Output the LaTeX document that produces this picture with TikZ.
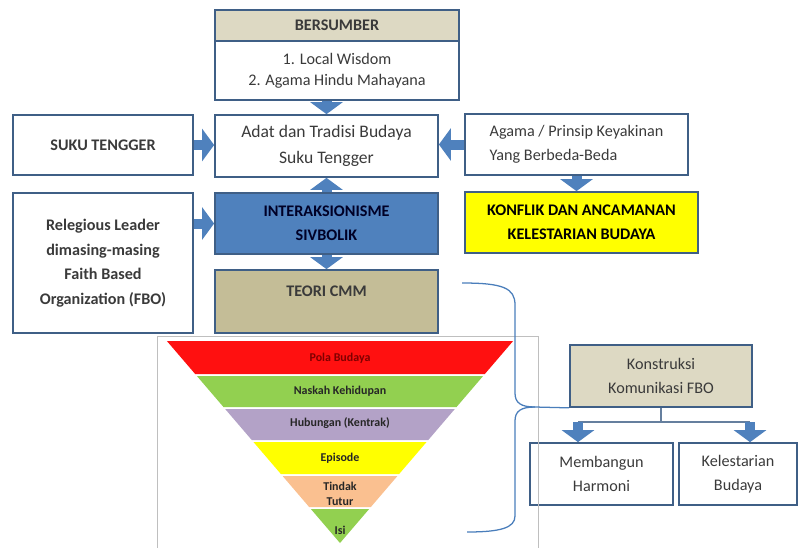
\documentclass[tikz,border=0pt]{standalone}
\usepackage{fontspec}
\setmainfont{Carlito}
\usetikzlibrary{arrows.meta, positioning}

\definecolor{boxline}{HTML}{3F5F86}
\definecolor{tanlight}{HTML}{DDD9C3}
\definecolor{tandark}{HTML}{C4BD97}
\definecolor{blueblock}{HTML}{4F81BD}
\definecolor{txtgray}{HTML}{3A3A3A}
\definecolor{braceblue}{HTML}{4A7EBB}
\definecolor{pRed}{HTML}{FF1010}
\definecolor{pGreen}{HTML}{92D050}
\definecolor{pPurple}{HTML}{B3A2C7}
\definecolor{pYellow}{HTML}{FFFF00}
\definecolor{pPeach}{HTML}{FAC090}

\tikzset{
  box/.style={draw=boxline, line width=1.2pt, align=center, inner sep=2pt,
    text=txtgray, font=\fontsize{11.5}{17}\selectfont},
  boldbox/.style={box, font=\fontsize{11.5}{17}\selectfont\bfseries},
  blockarrow/.style={draw=blueblock, line width=2.5mm,
    -{Triangle[width=8mm,length=3mm]}},
  treeline/.style={draw=boxline!80, line width=0.8pt},
  bracel/.style={draw=braceblue, line width=0.9pt},
  layerlabel/.style={font=\fontsize{8.5}{10.5}\selectfont\bfseries, align=center}
}

\begin{document}
\begin{tikzpicture}[x=0.025cm, y=-0.025cm]
  \useasboundingbox (0,0) rectangle (801,548);

  % top source box
  \node[boldbox, fill=tanlight, minimum width=6.1cm, minimum height=0.775cm] (berhead) at (337,25.5) {BERSUMBER};
  \node[box, minimum width=6.1cm, minimum height=1.475cm, font=\fontsize{11.5}{15}\selectfont] (berbody) at (337,70.5) {1. Local Wisdom\\2. Agama Hindu Mahayana};

  % middle column
  \node[box, minimum width=5.575cm, minimum height=1.55cm, font=\fontsize{12.5}{18.5}\selectfont] (adat) at (326.5,146) {Adat dan Tradisi Budaya\\Suku Tengger};
  \node[boldbox, fill=blueblock, text=black!85!blue, minimum width=5.575cm, minimum height=1.525cm] (inter) at (326.5,223.5) {INTERAKSIONISME\\SIVBOLIK};
  \node[boldbox, fill=tandark, minimum width=5.575cm, minimum height=1.575cm, text depth=0.5cm] (teori) at (326.5,301.5) {TEORI CMM};

  % left column
  \node[boldbox, minimum width=4.5cm, minimum height=1.5cm] (suku) at (103,145) {SUKU TENGGER};
  \node[boldbox, minimum width=4.5cm, minimum height=3.5cm, font=\fontsize{11.5}{17.5}\selectfont\bfseries] (rel) at (103,263) {Relegious Leader\\dimasing-masing\\Faith Based\\Organization (FBO)};

  % right column
  \node[box, align=left, minimum width=5.575cm, minimum height=1.525cm] (agama) at (576.5,144.5) {Agama / Prinsip Keyakinan\\Yang Berbeda-Beda};
  \node[boldbox, fill=pYellow, text=black, minimum width=5.825cm, minimum height=1.525cm] (konflik) at (581.5,222.5) {KONFLIK DAN ANCAMANAN\\KELESTARIAN BUDAYA};

  % construction boxes
  \node[box, fill=tanlight, minimum width=4.55cm, minimum height=1.55cm] (konstruksi) at (661,376) {Konstruksi\\Komunikasi FBO};
  \node[box, minimum width=3.575cm, minimum height=1.55cm] (membangun) at (601.5,474) {Membangun\\Harmoni};
  \node[box, minimum width=2.95cm, minimum height=1.55cm] (lestari) at (738,474) {Kelestarian\\Budaya};

  % block arrows
  \draw[blockarrow] (berbody.south -| adat.north) -- (adat.north);
  \draw[blockarrow] (suku.east) -- (suku.east -| adat.west);
  \draw[blockarrow] (agama.west) -- (agama.west -| adat.east);
  \draw[blockarrow] (agama.south) -- (agama.south |- konflik.north);
  \draw[blockarrow] (inter.north) -- (adat.south);
  \draw[blockarrow] (inter.west -| rel.east) -- (inter.west);
  \draw[blockarrow] (inter.south) -- (teori.north);

  % split below construction box
  \coordinate (splitL) at (578,422);
  \coordinate (splitR) at (750,422);
  \draw[treeline] (konstruksi.south) -- (konstruksi.south |- splitL);
  \draw[treeline] (splitL) -- (splitR);
  \draw[blockarrow] (splitL) -- (splitL |- membangun.north);
  \draw[blockarrow] (splitR) -- (splitR |- lestari.north);

  % pyramid frame and layers
  \draw[black!25, line width=0.6pt] (157,547.5) -- (157,336) -- (538,336) -- (538,547.5);
  \foreach \t/\b/\c/\ly/\lab [count=\i] in {341/374/pRed/358/Pola Budaya,
      376/407/pGreen/391/Naskah Kehidupan, 409/440/pPurple/423/Hubungan (Kentrak),
      442/474/pYellow/458/Episode, 476/507/pPeach/494/{Tindak\\Tutur},
      509/543/pGreen/530/Isi} {
    \pgfmathsetmacro\wt{(543-\t)*0.857}
    \pgfmathsetmacro\wb{(543-\b)*0.857}
    \fill[\c] ({340-\wt},\t) -- ({340+\wt},\t) -- ({340+\wb},\b) -- ({340-\wb},\b) -- cycle;
    \node[layerlabel, text=black!85] (layer\i) at (340,\ly) {\lab};
  }
  \node[layerlabel, text=red!50!black, fill=pRed, inner sep=1pt] at (layer1) {Pola Budaya};

  % brace
  \draw[bracel] (462,283) .. controls (503,283) and (515,288) .. (515,305) -- (515,393)
    .. controls (515,403) and (521,407) .. (535,407) -- (konstruksi.south west);
  \draw[bracel] (535,407) .. controls (521,407) and (515,411) .. (515,421) -- (515,516)
    .. controls (515,528) and (500,532) .. (467,532);
\end{tikzpicture}
\end{document}
